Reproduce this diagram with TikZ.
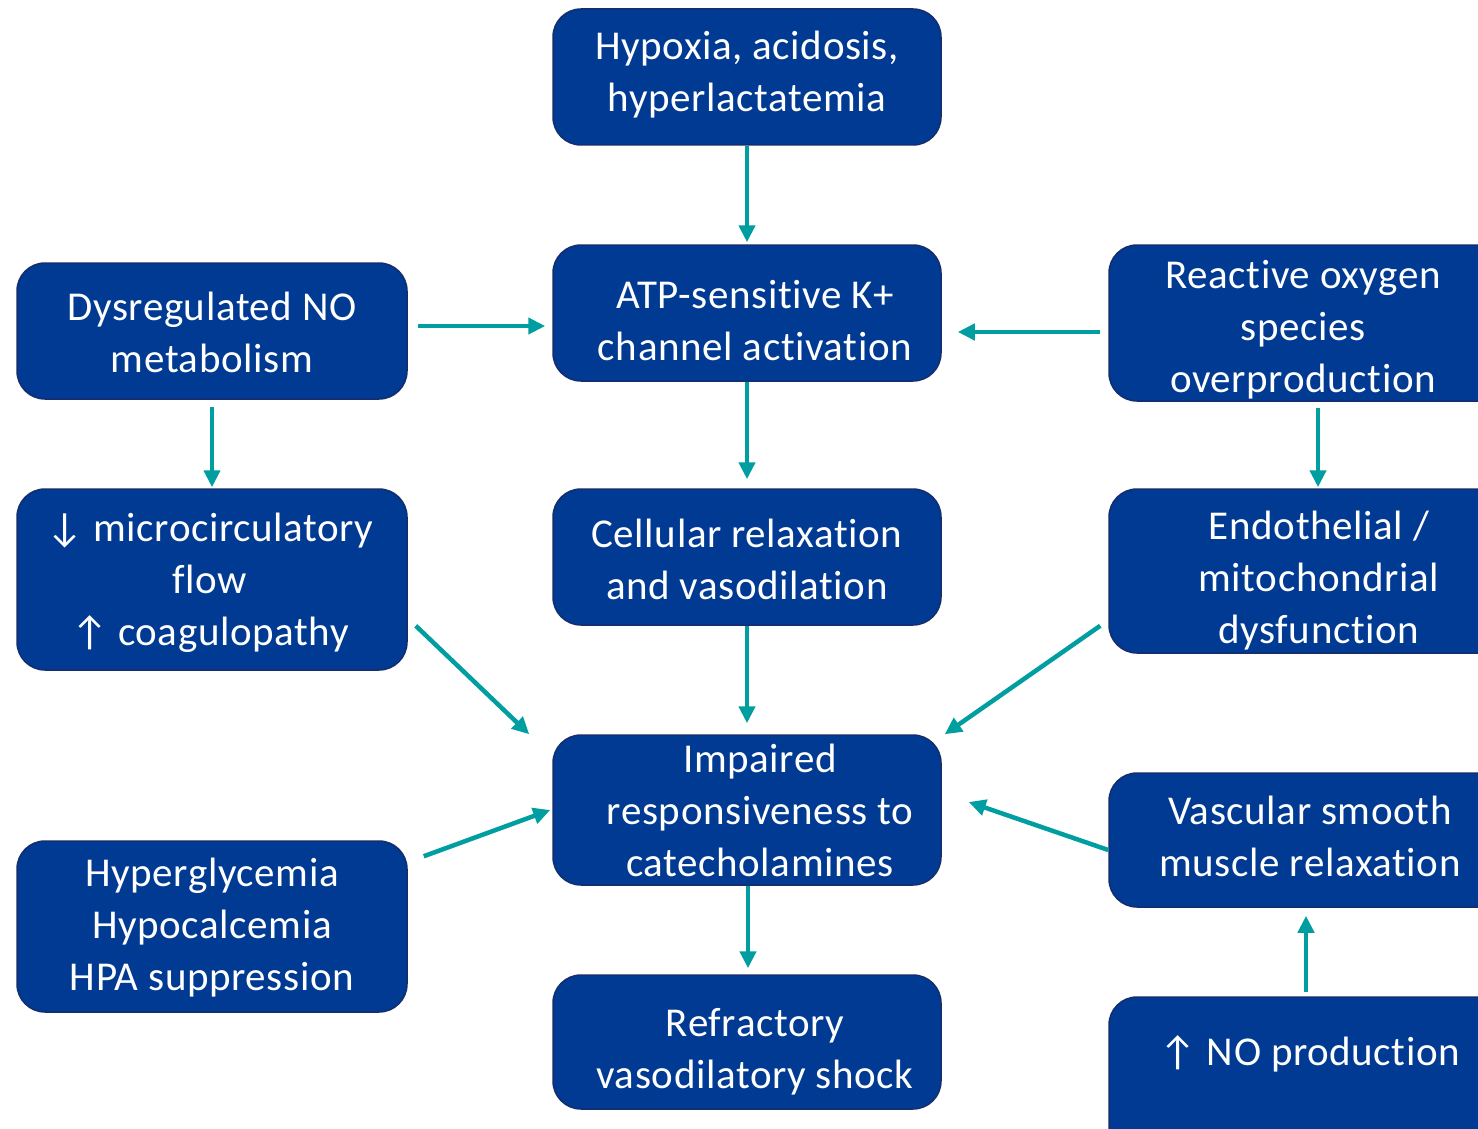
\documentclass[tikz,border=0pt]{standalone}
\usepackage{fontspec}
\setmainfont[LetterSpace=1.5,Ligatures={NoCommon}]{Carlito}
\usetikzlibrary{arrows.meta,calc}
\definecolor{boxblue}{RGB}{0,58,146}
\definecolor{boxedge}{RGB}{20,45,110}
\definecolor{teal}{RGB}{0,158,160}
\tikzset{
  box/.style={draw=boxedge, line width=1.5pt, fill=boxblue, rounded corners=28pt, inner sep=0pt},
  txt/.style={text=white, align=center, font=\fontsize{41}{52}\selectfont, inner sep=0pt},
  conn/.style={draw=teal, line width=4.5pt, -{Triangle[length=17pt,width=16pt]}}
}
\begin{document}
\begin{tikzpicture}[x=1pt,y=-1pt]
\useasboundingbox (0,0) rectangle (1478,1129);
\clip (0,0) rectangle (1478,1129);
% centre column
\node[box, minimum width=388pt, minimum height=136pt] (top) at (747,77) {};
\node[txt] (topt) at ($(top)+(0,-2)$) {Hypoxia, acidosis,\\hyperlactatemia};
\node[box, minimum width=388pt, minimum height=136pt] (atp) at (747,313) {};
\node[txt] (atpt) at ($(atp)+(8,8)$) {ATP-sensitive K+\\channel activation};
\node[box, minimum width=388pt, minimum height=136pt] (cell) at (747,557) {};
\node[txt] (cellt) at ($(cell)+(0,2)$) {Cellular relaxation\\and vasodilation};
\node[box, minimum width=388pt, minimum height=150pt] (imp) at (747,810) {};
\node[txt] (impt) at ($(imp)+(13,0)$) {Impaired\\responsiveness to\\catecholamines};
\node[box, minimum width=388pt, minimum height=134pt] (ref) at (747,1042) {};
\node[txt] (reft) at ($(ref)+(8,10)$) {Refractory\\vasodilatory shock};
% left column
\node[box, minimum width=390pt, minimum height=136pt] (dys) at (212,331) {};
\node[txt] (dyst) at ($(dys)+(0,1)$) {Dysregulated NO\\metabolism};
\node[box, minimum width=390pt, minimum height=181pt] (micro) at (212,579.5) {};
\node[txt] (microt) at ($(micro)+(-2,3)$) {↓ microcirculatory\\flow\\↑ coagulopathy};
\node[box, minimum width=390pt, minimum height=171pt] (hyp) at (212,926.5) {};
\node[txt] (hypt) at ($(hyp)+(0,1)$) {Hyperglycemia\\Hypocalcemia\\HPA suppression};
% right column
\node[box, minimum width=404pt, minimum height=156pt] (ros) at (1311,323) {};
\node[txt] (rost) at ($(ros)+(-8,7)$) {Reactive oxygen\\species\\overproduction};
\node[box, minimum width=404pt, minimum height=164pt] (endo) at (1311,571) {};
\node[txt] (endot) at ($(endo)+(8,10)$) {Endothelial /\\mitochondrial\\dysfunction};
\node[box, minimum width=404pt, minimum height=134pt] (vasc) at (1311,840) {};
\node[txt] (vasct) at ($(vasc)+(-1,-4)$) {Vascular smooth\\muscle relaxation};
\node[box, minimum width=404pt, minimum height=166pt] (nop) at (1311,1080) {};
\node[txt] (nopt) at ($(nop)+(-1,-26)$) {↑ NO production};
% connectors
\draw[conn] (top.south) -- ([yshift=2pt]atp.north);
\draw[conn] (atp.south) -- ([yshift=9pt]cell.north);
\draw[conn] (cell.south) -- ([yshift=11pt]imp.north);
\draw[conn] ([xshift=1pt]imp.south) -- ([xshift=1pt,yshift=6pt]ref.north);
\draw[conn] ([xshift=10pt,yshift=5pt]dys.east) -- ([xshift=-7pt,yshift=-13pt]atp.west);
\draw[conn] ([xshift=-8pt,yshift=-9pt]ros.west) -- ([xshift=16pt,yshift=-19pt]atp.east);
\draw[conn] ([yshift=-7pt]dys.south) -- ([yshift=1pt]micro.north);
\draw[conn] ([xshift=7pt,yshift=-6pt]ros.south) -- ([xshift=7pt,yshift=1pt]endo.north);
\draw[conn] ([xshift=8pt,yshift=45pt]micro.south east) -- ([xshift=-23pt]imp.north west);
\draw[conn] ([xshift=-8pt,yshift=28pt]endo.south west) -- ([xshift=3pt]imp.north east);
\draw[conn] ([xshift=16pt,yshift=-16pt]hyp.north east) -- ([xshift=-2pt]imp.west);
\draw[conn] ([yshift=-10pt]vasc.west) -- ([xshift=27pt,yshift=8pt]imp.east);
\draw[conn] ([xshift=-5pt,yshift=4pt]nop.north) -- ([xshift=-5pt,yshift=-8pt]vasc.south);
\end{tikzpicture}
\end{document}
